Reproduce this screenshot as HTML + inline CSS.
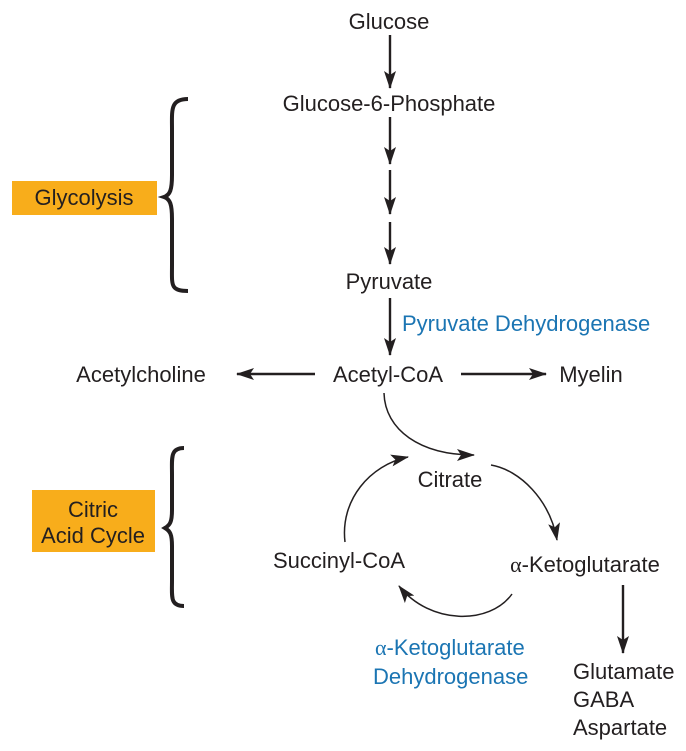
<!DOCTYPE html>
<html><head><meta charset="utf-8"><style>
html,body{margin:0;padding:0;background:#fff;}
svg{display:block;}
text{font-family:"Liberation Sans",sans-serif;font-size:22px;fill:#231f20;}
.b{fill:#1b75b3;}
</style></head><body>
<svg width="686" height="751" viewBox="0 0 686 751" xmlns="http://www.w3.org/2000/svg">
<defs>
<marker id="a" viewBox="0 0 18 12" refX="17" refY="6" markerWidth="18" markerHeight="12" markerUnits="userSpaceOnUse" orient="auto">
<path d="M0,0 L18,6 L0,12 L4,6 Z" fill="#231f20"/></marker>
</defs>
<g stroke="#231f20" stroke-width="2.4" fill="none">
<line x1="390" y1="35" x2="390" y2="88" marker-end="url(#a)"/>
<line x1="390" y1="117" x2="390" y2="164" marker-end="url(#a)"/>
<line x1="390" y1="170" x2="390" y2="214" marker-end="url(#a)"/>
<line x1="390" y1="222" x2="390" y2="264" marker-end="url(#a)"/>
<line x1="390" y1="298" x2="390" y2="355" marker-end="url(#a)"/>
<line x1="315" y1="374" x2="237" y2="374" marker-end="url(#a)"/>
<line x1="461" y1="374" x2="546" y2="374" marker-end="url(#a)"/>
<line x1="623" y1="585" x2="623" y2="653" marker-end="url(#a)"/>
</g>
<g stroke="#231f20" stroke-width="1.5" fill="none">
<path d="M384 393 C385 430 420 455 474 455" marker-end="url(#a)"/>
<path d="M345 542 C340 500 370 465 408 457" marker-end="url(#a)"/>
<path d="M491 465 C520 470 550 500 557 540" marker-end="url(#a)"/>
<path d="M512 594 C490 625 430 625 399 586" marker-end="url(#a)"/>
</g>
<g stroke="#231f20" stroke-width="4" fill="none">
<path d="M188 99 C170 99 172 110 172 130 L172 175 C172 190 170 195 164 197 C170 199 172 204 172 219 L172 265 C172 285 170 291 188 291"/>
<path d="M184 448 C170 448 172 458 172 475 L172 510 C172 522 170 525 165 528 C170 531 172 534 172 546 L172 580 C172 597 170 606 184 606"/>
</g>
<rect x="12" y="181" width="145" height="34" fill="#f8ad1b"/>
<rect x="32" y="490" width="123" height="62" fill="#f8ad1b"/>
<text x="84" y="205" text-anchor="middle">Glycolysis</text>
<text x="93" y="517" text-anchor="middle">Citric</text>
<text x="93" y="543" text-anchor="middle">Acid Cycle</text>
<text x="389" y="29" text-anchor="middle">Glucose</text>
<text x="389" y="111" text-anchor="middle">Glucose-6-Phosphate</text>
<text x="389" y="289" text-anchor="middle">Pyruvate</text>
<text class="b" x="402" y="331">Pyruvate Dehydrogenase</text>
<text x="388" y="382" text-anchor="middle">Acetyl-CoA</text>
<text x="141" y="382" text-anchor="middle">Acetylcholine</text>
<text x="591" y="382" text-anchor="middle">Myelin</text>
<text x="450" y="487" text-anchor="middle">Citrate</text>
<text x="339" y="568" text-anchor="middle">Succinyl-CoA</text>
<text x="585" y="572" text-anchor="middle"><tspan font-family="Liberation Serif">α</tspan>-Ketoglutarate</text>
<text class="b" x="375" y="655"><tspan font-family="Liberation Serif" class="b">α</tspan>-Ketoglutarate</text>
<text class="b" x="373" y="684">Dehydrogenase</text>
<text x="573" y="679">Glutamate</text>
<text x="573" y="707">GABA</text>
<text x="573" y="735">Aspartate</text>
</svg>
</body></html>
